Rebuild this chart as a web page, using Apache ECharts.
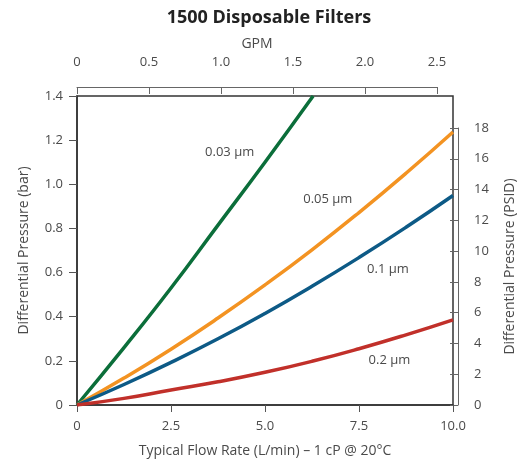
<!DOCTYPE html>
<html>
<head>
<meta charset="utf-8">
<script src="https://cdn.jsdelivr.net/npm/echarts@6/dist/echarts.min.js"></script>
<style>
  html, body { margin: 0; padding: 0; background: #fff; }
  #chart { width: 532px; height: 463px; }
</style>
</head>
<body>
<div id="chart"></div>
<script>
// values (x = L/min, y = bar)
var names = ['0.03 µm', '0.05 µm', '0.1 µm', '0.2 µm'];
var colors = ['#0b6e3a', '#f39322', '#0d5a86', '#c1302a'];
var flow = [0, 1.25, 2.5, 3.75, 5, 6.25, 7.5, 8.75, 10];
var d003 = [0, 0.26, 0.53, 0.815, 1.1, 1.4];
var d005 = [0, 0.122, 0.253, 0.394, 0.544, 0.703, 0.872, 1.05, 1.237];
var d01  = [0, 0.093, 0.193, 0.30, 0.415, 0.538, 0.668, 0.805, 0.949];
var d02  = [0, 0.03, 0.068, 0.105, 0.148, 0.198, 0.255, 0.318, 0.386];
var g003End = 6.28; // where the 0.03 µm curve leaves the top of the plot
var labelAt = [[4.06, 1.146], [6.67, 0.931], [8.27, 0.616], [8.31, 0.201]];

var font = '"Open Sans", "Noto Sans", sans-serif';
var txt = '#4a4a4a';

function pairs(vals, isGreen) {
  return vals.map(function (v, i) {
    var x = (isGreen && i === vals.length - 1) ? g003End : flow[i];
    return [x, v];
  });
}

window.onload = function () {
  var chart = echarts.init(document.getElementById('chart'));
  var allData = [pairs(d003, true), pairs(d005), pairs(d01), pairs(d02)];

  var series = allData.map(function (d, i) {
    return {
      name: names[i],
      type: 'line',
      xAxisIndex: 0,
      yAxisIndex: 0,
      data: d,
      smooth: true,
      showSymbol: false,
      lineStyle: { color: colors[i], width: 3.5 },
      markPoint: {
        symbol: 'circle',
        symbolSize: 0,
        silent: true,
        data: [{ coord: labelAt[i] }],
        label: {
          show: true,
          position: 'inside',
          formatter: names[i],
          color: txt,
          fontFamily: font,
          fontSize: 13
        }
      }
    };
  });

  var fmt1 = function (v) { return v === 0 ? '0' : v.toFixed(1); };

  chart.setOption({
    animation: false,
    title: {
      text: '1500 Disposable Filters',
      left: 264,
      textAlign: 'center',
      top: 4,
      textStyle: { fontFamily: font, fontSize: 18, fontWeight: 'bold', color: '#222' }
    },
    grid: [
      { left: 77, right: 79, top: 96, bottom: 58, show: true, borderColor: '#333', borderWidth: 1.5 },
      { left: 77, top: 77, width: 360, height: 10 },
      { left: 458, width: 10, top: 128, bottom: 58 }
    ],
    xAxis: [{
      gridIndex: 0, type: 'value', min: 0, max: 10, interval: 2.5,
      name: 'Typical Flow Rate (L/min) – 1 cP @ 20°C',
      nameLocation: 'middle', nameGap: 39,
      nameTextStyle: { fontFamily: font, fontSize: 14, color: txt },
      axisLine: { lineStyle: { color: '#333', width: 1.5 } },
      axisTick: { show: true, length: 7, lineStyle: { color: '#555' } },
      axisLabel: { margin: 15, fontFamily: font, fontSize: 13, color: txt, formatter: fmt1 },
      splitLine: { show: false }
    }, {
      gridIndex: 1, type: 'value', min: 0, max: 2.5, interval: 0.5, position: 'top',
      name: 'GPM', nameLocation: 'middle', nameGap: 26,
      nameTextStyle: { fontFamily: font, fontSize: 14, color: txt },
      axisLine: { lineStyle: { color: '#666', width: 1 } },
      axisTick: { show: true, inside: true, length: 7, lineStyle: { color: '#666' } },
      axisLabel: { margin: 8, fontFamily: font, fontSize: 13, color: txt, formatter: fmt1 },
      splitLine: { show: false }
    }, {
      gridIndex: 2, type: 'value', min: 0, max: 1, show: false
    }],
    yAxis: [{
      gridIndex: 0, type: 'value', min: 0, max: 1.4, interval: 0.2,
      name: 'Differential Pressure (bar)',
      nameLocation: 'middle', nameGap: 46,
      nameTextStyle: { fontFamily: font, fontSize: 14, color: txt },
      axisLine: { show: true, lineStyle: { color: '#333', width: 1.5 } },
      axisTick: { show: true, length: 8, lineStyle: { color: '#555' } },
      axisLabel: { margin: 14, fontFamily: font, fontSize: 13, color: txt, formatter: fmt1 },
      splitLine: { show: false }
    }, {
      gridIndex: 1, type: 'value', min: 0, max: 1, show: false
    }, {
      gridIndex: 2, type: 'value', min: 0, max: 18, interval: 2, position: 'right',
      name: 'Differential Pressure (PSID)',
      nameLocation: 'middle', nameGap: 35,
      nameTextStyle: { fontFamily: font, fontSize: 14, color: txt },
      axisLine: { show: true, lineStyle: { color: '#666', width: 1 } },
      axisTick: { show: true, inside: true, length: 8, lineStyle: { color: '#666' } },
      axisLabel: { margin: 6, fontFamily: font, fontSize: 13, color: txt },
      splitLine: { show: false }
    }],
    series: series
  });
};
</script>
</body>
</html>
